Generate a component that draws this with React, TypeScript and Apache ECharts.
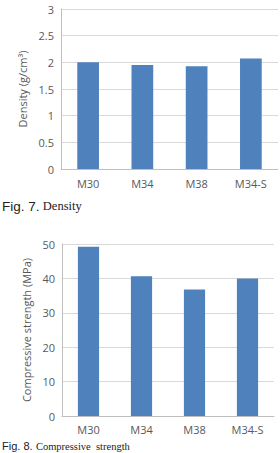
import React, { useEffect, useRef } from "react";
import * as echarts from "echarts";

const categories = ["M30", "M34", "M38", "M34-S"];
const densityValues = [2.0, 1.95, 1.925, 2.07];
const strengthValues = [49.2, 40.6, 36.8, 40.0];
const densityTicks = { min: 0, max: 3, interval: 0.5 };
const strengthTicks = { min: 0, max: 50, interval: 10 };

const FONT = "'Open Sans', 'Noto Sans', sans-serif";
const BAR = "#4f81bd";
const LABEL = "#595959";

export default function App() {
  const ref = useRef<HTMLDivElement>(null);
  useEffect(() => {
    if (!ref.current) return;
    const chart = echarts.init(ref.current, undefined, { renderer: "svg" });
    const xAxisCommon = {
      type: "category" as const,
      data: categories,
      axisTick: { show: false },
      axisLine: { lineStyle: { color: "#bfbfbf", width: 1 } },
      axisLabel: { color: LABEL, fontSize: 11, fontFamily: FONT, margin: 9 },
    };
    const yAxisCommon = {
      type: "value" as const,
      nameLocation: "middle" as const,
      nameTextStyle: { color: LABEL, fontSize: 11, fontFamily: FONT },
      axisLine: { show: true, lineStyle: { color: "#bfbfbf", width: 1 } },
      axisTick: { show: false },
      splitLine: { lineStyle: { color: "#d9d9d9", width: 1 } },
      axisLabel: { color: LABEL, fontSize: 11, fontFamily: FONT, margin: 7 },
    };
    const rich = {
      a: { fontFamily: "'Liberation Sans', Arial, sans-serif", fontSize: 13.5, fill: "#222" },
      b: { fontFamily: "'Liberation Serif', 'DejaVu Serif', serif", fontSize: 12.5, fill: "#222" },
    };
    const richSmall = {
      a: { fontFamily: "'Liberation Sans', Arial, sans-serif", fontSize: 11, lineHeight: 12, fill: "#222" },
      b: { fontFamily: "'Liberation Serif', 'DejaVu Serif', serif", fontSize: 10.5, lineHeight: 12, fill: "#222" },
    };
    chart.setOption({
      animation: false,
      grid: [
        { left: 61, top: 9, width: 217, height: 160 },
        { left: 62, top: 244, width: 212, height: 172 },
      ],
      xAxis: [
        { ...xAxisCommon, gridIndex: 0 },
        { ...xAxisCommon, gridIndex: 1, axisLabel: { ...xAxisCommon.axisLabel, margin: 8 } },
      ],
      yAxis: [
        {
          ...yAxisCommon,
          gridIndex: 0,
          ...densityTicks,
          name: "Density (g/cm³)",
          nameGap: 33,
        },
        {
          ...yAxisCommon,
          gridIndex: 1,
          ...strengthTicks,
          name: "Compressive strength (MPa)",
          nameGap: 30,
        },
      ],
      series: [
        {
          type: "bar",
          xAxisIndex: 0,
          yAxisIndex: 0,
          data: densityValues,
          barWidth: "40%",
          itemStyle: { color: BAR },
        },
        {
          type: "bar",
          xAxisIndex: 1,
          yAxisIndex: 1,
          data: strengthValues,
          barWidth: "40%",
          itemStyle: { color: BAR },
        },
      ],
      graphic: [
        {
          type: "text",
          left: 2,
          top: 199,
          style: { text: "{a|Fig. 7.} {b|Density}", rich },
        },
        {
          type: "text",
          left: 2,
          top: 440,
          style: { text: "{a|Fig. 8.} {b|Compressive  strength}", rich: richSmall },
        },
      ],
    });
    return () => chart.dispose();
  }, []);
  return (
    <div
      ref={ref}
      style={{ position: "fixed", left: 0, top: 0, width: 280, height: 453, background: "#fff" }}
    />
  );
}
